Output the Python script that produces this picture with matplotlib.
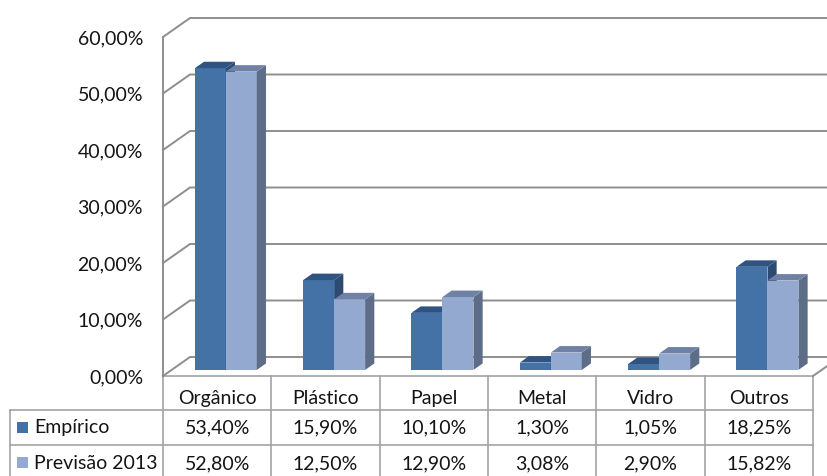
import matplotlib
matplotlib.use("Agg")
import matplotlib.pyplot as plt
from matplotlib.patches import Polygon, Rectangle
from matplotlib.transforms import ScaledTranslation

plt.rcParams['font.family'] = ['Lato', 'DejaVu Sans']

categories = ["Orgânico", "Plástico", "Papel", "Metal", "Vidro", "Outros"]
series_names = ["Empírico", "Previsão 2013"]
empirico = [53.40, 15.90, 10.10, 1.30, 1.05, 18.25]
previsao = [52.80, 12.50, 12.90, 3.08, 2.90, 15.82]
y_ticks = [0, 10, 20, 30, 40, 50, 60]

front_colors = ["#4472A6", "#94A9D0"]
top_colors = ["#2F5382", "#6F82A6"]
side_colors = ["#2D4A72", "#5D6C87"]
grid_color = "#8E8E8E"
table_line = "#A3A3A3"
text_color = "#141414"

W, H = 827, 476
fig = plt.figure(figsize=(W / 100, H / 100), dpi=100)

# chart box in pixels (front plane): left wall x, floor y, 60% y, right edge
x0_px, x1_px = 163, 813
y0_px, y60_px = 376, 37
ax = fig.add_axes([x0_px / W, 1 - y0_px / H, (x1_px - x0_px) / W, (y0_px - y60_px) / H])
n = len(categories)
ax.set_xlim(-0.5, n - 0.5)
ax.set_ylim(0, 60)
ax.axis("off")

# depth vector of the pseudo-3D box, in data units
px_per_x = (x1_px - x0_px) / n
px_per_y = (y0_px - y60_px) / 60
DX = 27 / px_per_x
DY = 19 / px_per_y

def proj(x, y, d):
    return (x + DX * d, y + DY * d)

# walls: left diagonals, back gridlines, left front edge, floor right edge
for v in y_ticks:
    pa = proj(-0.5, v, 0)
    pb = proj(-0.5, v, 1)
    pc = proj(n - 0.5, v, 1)
    ax.plot([pa[0], pb[0], pc[0]], [pa[1], pb[1], pc[1]], color=grid_color,
            lw=1.4, clip_on=False, zorder=1, solid_joinstyle="miter")
ax.plot([-0.5, -0.5], [0, 60], color=grid_color, lw=1.4, clip_on=False, zorder=1)
pa, pb = proj(n - 0.5, 0, 0), proj(n - 0.5, 0, 1)
ax.plot([pa[0], pb[0]], [pa[1], pb[1]], color=grid_color, lw=1.4, clip_on=False, zorder=1)

fs = 14

# y tick labels
lab_tr = ax.transData + ScaledTranslation(-0.20, -0.015, fig.dpi_scale_trans)
for v in y_ticks:
    ax.text(-0.5, v, f"{v:.2f}%".replace(".", ","), transform=lab_tr,
            ha="right", va="center", fontsize=fs, color=text_color)

# bars
bw = 0.286
d0, t = 0.32, 0.34
for i in range(n):
    for s, vals in enumerate([empirico, previsao]):
        val = vals[i]
        xl = i - bw + s * bw + DX * d0
        xr = xl + bw
        b = DY * d0
        ax.bar(xl, val, bw, bottom=b, align="edge", color=front_colors[s],
               linewidth=0, zorder=3 + s * 3, clip_on=False)
        side = [(xr, b), (xr + DX * t, b + DY * t), (xr + DX * t, b + val + DY * t), (xr, b + val)]
        ax.add_patch(Polygon(side, closed=True, facecolor=side_colors[s], lw=0,
                             zorder=4 + s * 3, clip_on=False))
        top = [(xl, b + val), (xr, b + val), (xr + DX * t, b + val + DY * t),
               (xl + DX * t, b + val + DY * t)]
        ax.add_patch(Polygon(top, closed=True, facecolor=top_colors[s], lw=0,
                             zorder=5 + s * 3, clip_on=False))

# data table below the chart, in pixel coordinates
tab = fig.add_axes([0, 0, 1, 1], zorder=-1)
tab.set_xlim(0, W)
tab.set_ylim(H, 0)
tab.axis("off")
col_edges = [x0_px + px_per_x * k for k in range(n + 1)]
row_edges = [376, 410, 445, 481]
legend_left = 10
tab.plot([x0_px, x1_px], [row_edges[0]] * 2, color=table_line, lw=1.2)
for y in row_edges[1:]:
    tab.plot([legend_left, x1_px], [y, y], color=table_line, lw=1.2)
for x in col_edges:
    tab.plot([x, x], [row_edges[0], row_edges[-1]], color=table_line, lw=1.2)
tab.plot([legend_left, legend_left], [row_edges[1], row_edges[-1]], color=table_line, lw=1.2)

for i, c in enumerate(categories):
    xc = (col_edges[i] + col_edges[i + 1]) / 2
    tab.text(xc, 398.5, c, ha="center", va="center", fontsize=fs, color=text_color)
    for r, vals in enumerate([empirico, previsao]):
        yc = (row_edges[r + 1] + row_edges[r + 2]) / 2
        tab.text(xc, yc + 0.5, f"{vals[i]:.2f}%".replace(".", ","), ha="center",
                 va="center", fontsize=fs, color=text_color)

for r, name in enumerate(series_names):
    yc = (row_edges[r + 1] + row_edges[r + 2]) / 2
    tab.add_patch(Rectangle((17, yc - 6), 11, 11, facecolor=front_colors[r], lw=0))
    tab.text(34, yc + 0.5, name, ha="left", va="center", fontsize=fs, color=text_color)

fig.savefig("out.png", dpi=100, facecolor="white")
